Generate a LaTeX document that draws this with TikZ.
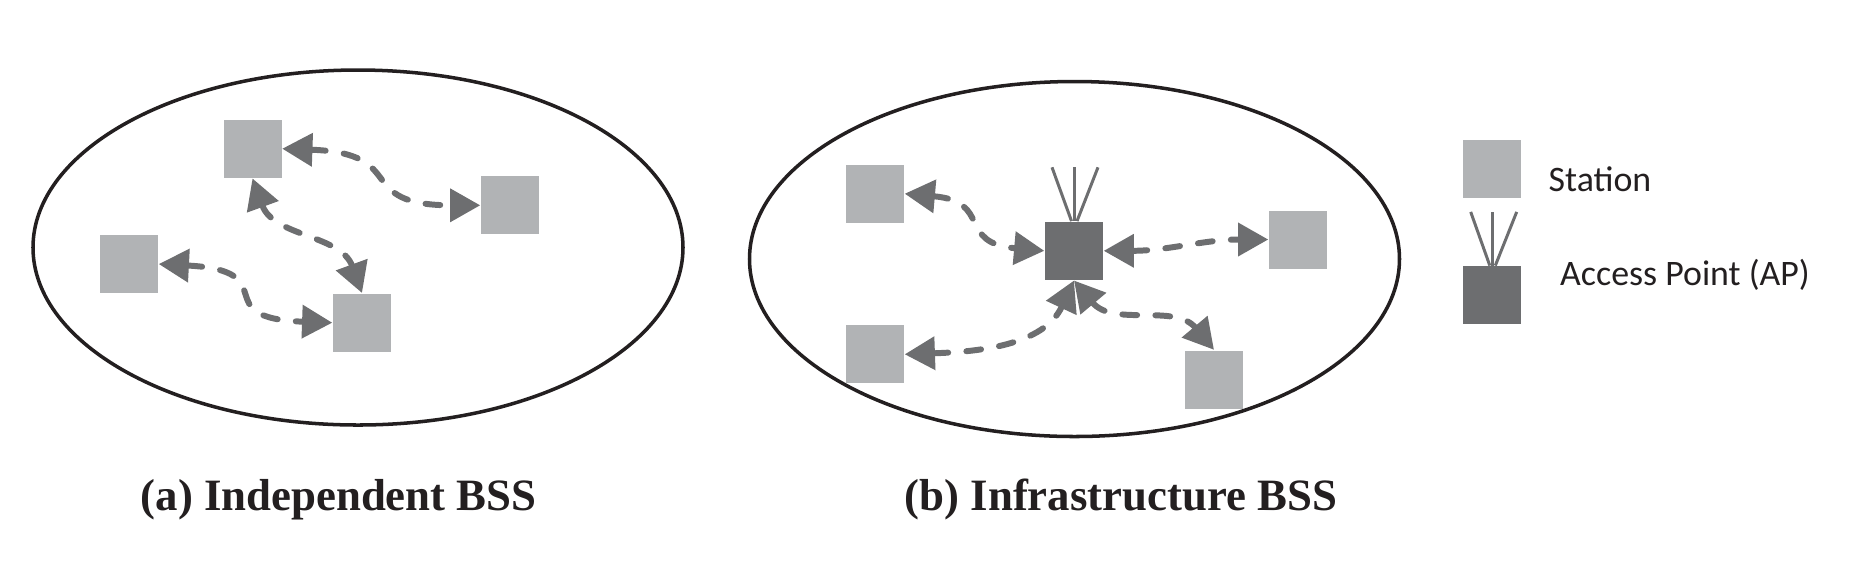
\documentclass[tikz,border=0pt]{standalone}
\usepackage{fontspec}
\setmainfont{Carlito}
\newfontfamily\captionfont{Liberation Serif}
\usepackage{xcolor}
\usetikzlibrary{shapes.geometric, arrows.meta, positioning}
\definecolor{stationgray}{HTML}{B1B3B5}
\definecolor{apgray}{HTML}{6D6E70}
\definecolor{inkblack}{HTML}{231F20}
\tikzstyle{cell} = [draw=inkblack, ellipse, line width=1pt, minimum width=6.50cm, minimum height=3.55cm, inner sep=0pt]
\tikzstyle{station} = [fill=stationgray, minimum size=0.58cm, inner sep=0pt]
\tikzstyle{ap} = [fill=apgray, minimum size=0.58cm, inner sep=0pt]
\tikzstyle{link} = [apgray, line width=1.7pt, line cap=round, dash pattern=on 4.2pt off 5.2pt, <->]
\tikzstyle{antenna} = [apgray, line width=0.85pt]
\tikzstyle{legendtext} = [anchor=base west, inner sep=0pt, inkblack, font=\fontsize{10.2pt}{12pt}\selectfont]
\tikzstyle{captiontext} = [anchor=base west, inner sep=0pt, inkblack, font=\captionfont\bfseries\fontsize{12.75pt}{15pt}\selectfont]

\begin{document}
\begin{tikzpicture}[on grid, >={Triangle[length=8.6pt, width=9.2pt]}]
            \useasboundingbox (0,0) rectangle (18.64,-5.62);

            % (a) independent
            \node[cell] (cella) at (3.58,-2.475) {};
            \node[station] (a1) at (2.525,-1.487) {};
            \node[station, below right=0.566 and 2.575 of a1] (a2) {};
            \node[station, below left=1.153 and 1.235 of a1] (a3) {};
            \node[station, below right=1.74 and 1.095 of a1] (a4) {};

            \draw[link] (a1.east) to[out=-2, in=180, looseness=1.6] (a2.west);
            \draw[link] (a1.south) to[out=-70, in=110] (a4.north);
            \draw[link] (a3.east) to[out=-3, in=178, looseness=1.8] (a4.west);

            % (b) infrastructure
            \node[cell] (cellb) at (10.745,-2.59) {};
            \node[ap] (ap1) at (10.74,-2.508) {};
            \node[station, above left=0.571 and 1.99 of ap1] (b1) {};
            \node[station, above right=0.113 and 2.24 of ap1] (b2) {};
            \node[station, below left=1.035 and 1.99 of ap1] (b3) {};
            \node[station, below right=1.287 and 1.40 of ap1] (b4) {};

            \coordinate[above left=0.538 and 0.22 of ap1.north] (ap1l);
            \coordinate[above=0.538 of ap1.north] (ap1m);
            \coordinate[above right=0.538 and 0.24 of ap1.north] (ap1r);
            \draw[antenna] ([xshift=-0.025cm]ap1.north) -- (ap1l);
            \draw[antenna] (ap1.north) -- (ap1m);
            \draw[antenna] ([xshift=0.03cm]ap1.north) -- (ap1r);

            \draw[link] (b1.east) to[out=-5, in=175, looseness=1.5] (ap1.west);
            \draw[link] (ap1.east) to[out=0, in=180] (b2.west);
            \draw[link] (b3.east) to[out=2, in=-115] (ap1.south);
            \draw[link] (ap1.south) to[out=-50, in=130] (b4.north);

            % legend
            \node[station] (keystation) at (14.923,-1.69) {};
            \node[ap, below=1.263 of keystation] (keyap) {};
            \coordinate[above left=0.537 and 0.216 of keyap.north] (keyapl);
            \coordinate[above=0.537 of keyap.north] (keyapm);
            \coordinate[above right=0.537 and 0.244 of keyap.north] (keyapr);
            \draw[antenna] ([xshift=-0.025cm]keyap.north) -- (keyapl);
            \draw[antenna] (keyap.north) -- (keyapm);
            \draw[antenna] ([xshift=0.03cm]keyap.north) -- (keyapr);

            \node[legendtext] (labelstation) at (15.48,-1.915) {Station};
            \node[legendtext] (labelap) at (15.595,-2.855) {Access Point (AP)};

            % captions
            \node[captiontext] (captiona) at (1.40,-5.10) {(a) Independent BSS};
            \node[captiontext] (captionb) at (9.04,-5.10) {(b) Infrastructure BSS};
\end{tikzpicture}
\end{document}
